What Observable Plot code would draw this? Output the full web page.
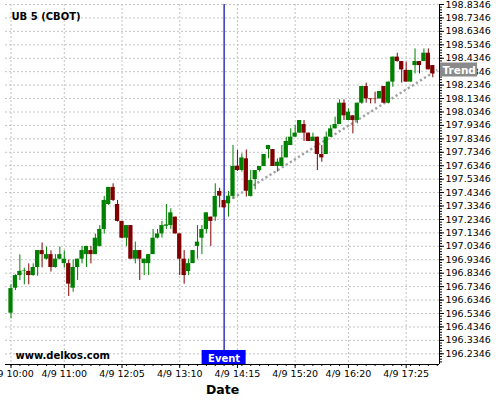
<!DOCTYPE html>
<html><head><meta charset="utf-8">
<script src="https://cdn.jsdelivr.net/npm/d3@7"></script>
<script src="https://cdn.jsdelivr.net/npm/@observablehq/plot@0.6"></script>
<style>
html,body{margin:0;padding:0;background:#fff;}
#chart svg{display:block;}
</style></head><body><div id="chart"></div>
<script>
const title = "UB 5 (CBOT)";
const watermark = "www.delkos.com";
const xLabel = "Date";

const open = [196.537,196.723,196.817,196.848,196.848,196.817,196.877,197.003,196.939,196.973,
196.877,196.939,196.906,196.906,196.723,196.877,196.939,196.973,197.003,196.973,
197.034,197.160,197.346,197.473,197.346,197.220,197.095,197.189,196.939,197.003,
196.906,196.906,196.973,197.095,197.127,197.184,197.189,197.252,197.127,196.939,
196.847,196.906,197.034,197.095,197.160,197.252,197.252,197.443,197.376,197.351,
197.406,197.631,197.599,197.686,197.406,197.532,197.599,197.629,197.755,197.755,
197.629,197.629,197.693,197.785,197.847,197.877,197.941,197.877,197.815,197.847,
197.718,197.718,197.847,197.909,197.941,198.100,197.971,198.006,197.971,198.100,
198.224,198.132,198.130,198.132,198.224,198.100,198.257,198.443,198.410,198.344,
198.257,198.380,198.410,198.410,198.472,198.380];
const high = [196.748,196.823,196.971,196.872,196.904,196.904,197.003,197.060,197.029,197.001,
196.973,197.029,197.001,196.933,196.933,196.939,197.034,197.034,197.034,197.125,
197.189,197.406,197.473,197.500,197.376,197.220,197.189,197.189,197.066,197.003,
196.939,196.973,197.160,197.160,197.220,197.346,197.314,197.252,197.127,197.003,
196.939,197.003,197.189,197.189,197.284,197.252,197.500,197.467,197.376,197.443,
197.785,197.748,197.723,197.752,197.599,197.599,197.629,197.718,197.785,197.755,
197.686,197.785,197.847,197.909,197.934,197.971,197.971,197.877,197.877,197.847,
197.785,197.885,197.934,197.996,198.125,198.125,198.058,198.006,198.100,198.224,
198.249,198.132,198.182,198.187,198.224,198.257,198.443,198.472,198.410,198.405,
198.344,198.504,198.410,198.504,198.504,198.380];
const low = [196.495,196.706,196.780,196.748,196.748,196.812,196.812,196.874,196.933,196.843,
196.872,196.933,196.872,196.661,196.693,196.780,196.904,196.877,196.904,196.973,
197.029,197.125,197.339,197.368,197.215,197.090,197.034,196.939,196.904,196.780,
196.817,196.817,196.973,197.090,197.095,197.160,197.160,197.127,196.817,196.753,
196.817,196.906,196.939,196.973,197.127,197.034,197.220,197.321,197.321,197.252,
197.385,197.592,197.587,197.401,197.401,197.455,197.587,197.627,197.686,197.629,
197.587,197.629,197.693,197.785,197.847,197.877,197.815,197.815,197.815,197.599,
197.661,197.718,197.847,197.909,197.941,197.971,197.971,197.872,197.946,198.092,
198.100,198.095,198.095,198.132,198.100,198.095,198.219,198.405,198.249,198.257,
198.257,198.318,198.318,198.410,198.348,198.289];
const close = [196.720,196.817,196.848,196.852,196.817,196.877,197.003,196.973,196.973,196.877,
196.939,196.973,196.939,196.753,196.877,196.939,197.003,197.034,196.973,197.095,
197.160,197.376,197.473,197.376,197.220,197.095,197.189,196.939,197.003,196.939,
196.939,196.973,197.095,197.127,197.189,197.194,197.284,197.127,196.939,196.817,
196.906,197.003,197.066,197.160,197.284,197.220,197.406,197.408,197.321,197.408,
197.629,197.599,197.693,197.445,197.525,197.599,197.629,197.718,197.785,197.629,
197.661,197.693,197.815,197.847,197.877,197.971,197.877,197.815,197.847,197.718,
197.693,197.847,197.909,197.941,198.100,198.006,198.033,197.971,198.100,198.224,
198.132,198.127,198.127,198.187,198.100,198.257,198.443,198.410,198.348,198.257,
198.344,198.410,198.380,198.472,198.348,198.318];

const tickIndex = [0, 12, 25, 38, 51, 64, 76, 89];
const tickLabels = ["4/9 10:00","4/9 11:00","4/9 12:05","4/9 13:10","4/9 14:15","4/9 15:20","4/9 16:20","4/9 17:25"];
const yTicks = [196.2346,196.3346,196.4346,196.5346,196.6346,196.7346,196.8346,196.9346,197.0346,
197.1346,197.2346,197.3346,197.4346,197.5346,197.6346,197.7346,197.8346,197.9346,198.0346,
198.1346,198.2346,198.3346,198.4346,198.5346,198.6346,198.7346,198.8346];

const eventIndex = 48;
const eventLabel = "Event";
const trendIndex = [50, 96];
const trendPrice = [197.393, 198.347];
const trendLabel = "Trend";

const upColor = "#008000", downColor = "#800000";
const xDomain = [-1.24, 96.51];
const yDomain = [196.155, 198.8346];

const candles = open.map((o, i) => ({i, open: o, high: high[i], low: low[i], close: close[i], up: close[i] >= o}));
const trend = trendIndex.map((t, j) => ({i: t, p: trendPrice[j]}));
const trendEnd = trend[trend.length - 1];
const minorX = d3.range(0, 97, 2);
const minorY = d3.range(-3, 132).map(j => +(196.2346 + j * 0.02).toFixed(4)).filter(v => v >= yDomain[0] && v <= yDomain[1]);
const grid = {stroke: "#c4c4c4", strokeOpacity: 1, strokeDasharray: "2,2"};

const chart = Plot.plot({
  width: 500, height: 400,
  marginLeft: 5, marginRight: 61, marginTop: 4, marginBottom: 36,
  style: {fontFamily: "DejaVu Sans, sans-serif", fontSize: "9.5px", color: "#000", background: "#fff"},
  x: {type: "linear", domain: xDomain},
  y: {domain: yDomain},
  marks: [
    Plot.gridY(yTicks, grid),
    Plot.gridX(tickIndex, grid),
    Plot.ruleX([eventIndex], {stroke: "#0000b4", strokeWidth: 1.2}),
    Plot.line(trend, {x: "i", y: "p", stroke: "#a0a0a0", strokeWidth: 2.4, strokeDasharray: "2.2,2.6", strokeLinecap: "butt"}),
    Plot.ruleX(candles, {x: "i", y1: "low", y2: "high", stroke: d => d.up ? upColor : downColor, strokeWidth: 1}),
    Plot.rect(candles, {x1: d => d.i - 0.48, x2: d => d.i + 0.48, y1: "open", y2: "close", fill: d => d.up ? upColor : downColor}),
    Plot.ruleY([yDomain[0]], {stroke: "#000"}),
    Plot.ruleX([xDomain[1]], {stroke: "#000"}),
    Plot.axisX(tickIndex, {anchor: "bottom", tickSize: 4, tickPadding: 2, tickFormat: d => tickLabels[tickIndex.indexOf(d)], label: null}),
    Plot.axisX(minorX, {anchor: "bottom", tickSize: 2, tickFormat: () => "", label: null}),
    Plot.axisY(yTicks, {anchor: "right", tickSize: 4, tickPadding: 2, tickFormat: d => d.toFixed(4), label: null}),
    Plot.axisY(minorY, {anchor: "right", tickSize: 2, tickFormat: () => "", label: null}),
    Plot.text([title], {text: d => d, frameAnchor: "top-left", textAnchor: "start", lineAnchor: "middle", dx: 6, dy: 12, fontWeight: "bold", fontSize: 10}),
    Plot.text([watermark], {text: d => d, frameAnchor: "bottom-left", textAnchor: "start", lineAnchor: "middle", dx: 10, dy: -9, fontWeight: "bold", fontSize: 10}),
    Plot.rect([eventIndex], {x1: d => d, x2: d => d, insetLeft: -22, insetRight: -22, insetTop: 346, fill: "#0000ff"}),
    Plot.text([eventLabel], {text: d => d, x: eventIndex, frameAnchor: "bottom", lineAnchor: "middle", dy: -6, fill: "#fff", fontWeight: "bold", fontSize: 10}),
    Plot.rect([trendEnd], {x1: "i", x2: "i", y1: "p", y2: "p", insetLeft: 3.3, insetRight: -40.3, insetTop: -7, insetBottom: -7, fill: "#8a8a8a"}),
    Plot.text([trendEnd], {text: () => trendLabel, x: "i", y: "p", dx: 22, dy: 1, lineAnchor: "middle", fill: "#fff", fontWeight: "bold", fontSize: 10.5}),
    Plot.text([xLabel], {text: d => d, frameAnchor: "bottom", lineAnchor: "middle", dy: 25, fontWeight: "bold", fontSize: 12.5})
  ]
});
document.getElementById("chart").appendChild(chart);
</script></body></html>
